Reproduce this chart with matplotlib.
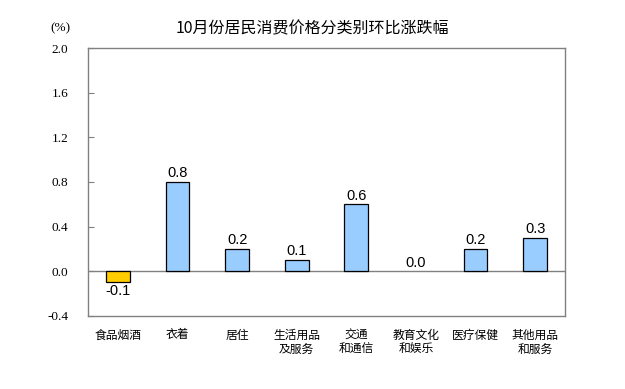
import matplotlib
matplotlib.use('Agg')
import matplotlib.pyplot as plt

plt.rcParams['font.family'] = ['Noto Sans CJK SC', 'DejaVu Sans']

categories = ['食品烟酒', '衣着', '居住', '生活用品\n及服务', '交通\n和通信',
              '教育文化\n和娱乐', '医疗保健', '其他用品\n和服务']
values = [-0.1, 0.8, 0.2, 0.1, 0.6, 0.0, 0.2, 0.3]
yticks = [-0.4, 0.0, 0.4, 0.8, 1.2, 1.6, 2.0]

colors = ['#FFCC00' if v < 0 else '#99CCFF' for v in values]
edges = [0 if v == 0 else 0.9 for v in values]

fig = plt.figure(figsize=(6.25, 3.89), dpi=100)
ax = fig.add_axes([0.1408, 0.1877, 0.7632, 0.6889])

x = range(len(values))
ax.bar(x, values, width=0.4, color=colors, edgecolor='black', linewidth=edges, zorder=3)
ax.axhline(0, color='#808080', linewidth=1, zorder=2)

for i, v in enumerate(values):
    if v < 0:
        ax.text(i, v - 0.015, '%.1f' % v, ha='center', va='top', fontsize=10.5,
                family='Liberation Sans')
    else:
        ax.text(i, v + 0.015, '%.1f' % v, ha='center', va='bottom', fontsize=10.5,
                family='Liberation Sans')

ax.set_xlim(-0.5, len(values) - 0.5)
ax.set_ylim(-0.4, 2.0)
ax.set_yticks(yticks)
ax.set_yticklabels(['%.1f' % t for t in yticks], family='Liberation Serif', fontsize=9.5)
ax.tick_params(axis='y', direction='in', length=4, color='#808080', pad=14)
ax.set_xticks(list(x))
ax.set_xticklabels(categories, fontsize=8.5, linespacing=1.1)
ax.tick_params(axis='x', length=0, pad=9)

for s in ax.spines.values():
    s.set_color('#808080')
    s.set_linewidth(1)

fig.text(0.5, 0.926, '10月份居民消费价格分类别环比涨跌幅', ha='center', va='center', fontsize=11.5)
fig.text(0.096, 0.928, '(%)', ha='center', va='center', fontsize=9.5, family='Liberation Serif')

fig.savefig('out.png', dpi=100)
